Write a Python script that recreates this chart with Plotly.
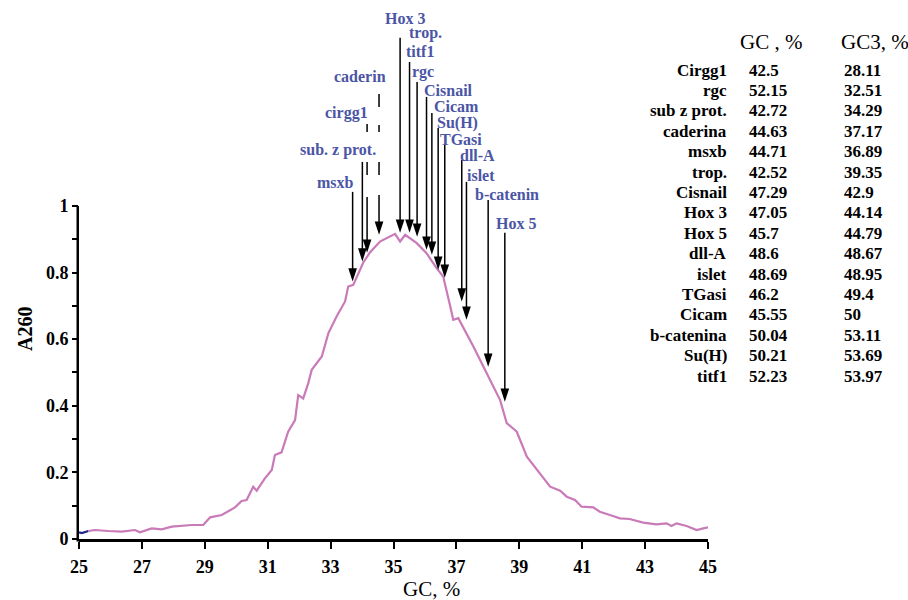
import plotly.graph_objects as go

# ---------------- data ----------------
gc_pct = [25.00, 25.09, 25.30, 25.50, 25.93, 26.36, 26.78, 26.94, 27.31, 27.63,
          27.95, 28.30, 28.58, 28.95, 29.17, 29.54, 29.96, 30.17, 30.33, 30.54,
          30.65, 30.91, 31.13, 31.23, 31.44, 31.65, 31.87, 31.97, 32.13, 32.29,
          32.40, 32.72, 32.93, 33.19, 33.46, 33.56, 33.72, 34.04, 34.25, 34.57,
          35.05, 35.21, 35.37, 35.74, 36.05, 36.37, 36.58, 36.80, 36.90, 37.06,
          37.43, 37.54, 37.96, 38.07, 38.39, 38.60, 38.92, 39.24, 39.66, 39.98,
          40.30, 40.51, 40.77, 40.98, 41.35, 41.56, 41.88, 42.20, 42.51, 42.94,
          43.36, 43.68, 43.84, 44.00, 44.32, 44.64, 44.85, 45.00]
a260 = [0.020, 0.018, 0.024, 0.027, 0.024, 0.022, 0.027, 0.020, 0.032, 0.029,
        0.037, 0.040, 0.042, 0.042, 0.065, 0.072, 0.095, 0.114, 0.117, 0.157,
        0.145, 0.182, 0.207, 0.252, 0.260, 0.322, 0.357, 0.432, 0.422, 0.468,
        0.508, 0.548, 0.618, 0.668, 0.713, 0.758, 0.763, 0.830, 0.860, 0.893,
        0.916, 0.893, 0.913, 0.888, 0.858, 0.813, 0.788, 0.700, 0.658, 0.663,
        0.598, 0.578, 0.498, 0.478, 0.417, 0.348, 0.322, 0.247, 0.197, 0.157,
        0.145, 0.127, 0.117, 0.097, 0.095, 0.082, 0.072, 0.062, 0.060, 0.049,
        0.044, 0.047, 0.039, 0.047, 0.039, 0.027, 0.032, 0.035]
BLUE_END = 3  # first points drawn in dark blue

# arrows (gene GC position, arrow tail level, arrow tip level)
arrow_gene = ['msxb', 'sub. z prot.', 'cirgg1', 'caderin', 'Hox 3', 'trop.', 'titf1',
              'rgc', 'Cisnail', 'Cicam', 'Su(H)', 'dll-A', 'islet', 'b-catenin', 'Hox 5']
arrow_gc = [33.70, 34.01, 34.16, 34.54, 35.21, 35.51, 35.75, 36.05, 36.22, 36.42,
            36.63, 37.17, 37.32, 38.01, 38.54]
arrow_top = [1.042, 1.132, 1.246, 1.336, 1.505, 1.432, 1.372, 1.327, 1.279, 1.234,
             1.183, 1.138, 1.072, 1.018, 0.919]
arrow_tip = [0.773, 0.833, 0.859, 0.913, 0.919, 0.919, 0.907, 0.868, 0.853, 0.808,
             0.784, 0.713, 0.658, 0.517, 0.412]
arrow_dashed = [False, False, True, True, False, False, False, False, False, False,
                False, False, False, False, False]

# gene labels over the curve
label_text = ['msxb', 'sub. z prot.', 'cirgg1', 'caderin', 'Hox 3', 'trop.', 'titf1',
              'rgc', 'Cisnail', 'Cicam', 'Su(H)', 'TGasi', 'dll-A', 'islet',
              'b-catenin', 'Hox 5']
label_x = [33.14, 33.22, 33.51, 33.95, 35.37, 36.02, 35.83, 35.95, 36.76, 36.99,
           37.02, 37.16, 37.67, 37.78, 38.62, 38.89]
label_y = [1.069, 1.168, 1.279, 1.387, 1.562, 1.519, 1.462, 1.402, 1.347, 1.298,
           1.248, 1.199, 1.150, 1.090, 1.033, 0.946]

# table on the right
table_gene = ['Cirgg1', 'rgc', 'sub z prot.', 'caderina', 'msxb', 'trop.', 'Cisnail',
              'Hox 3', 'Hox 5', 'dll-A', 'islet', 'TGasi', 'Cicam', 'b-catenina',
              'Su(H)', 'titf1']
table_gc = [42.5, 52.15, 42.72, 44.63, 44.71, 42.52, 47.29, 47.05, 45.7, 48.6,
            48.69, 46.2, 45.55, 50.04, 50.21, 52.23]
table_gc3 = [28.11, 32.51, 34.29, 37.17, 36.89, 39.35, 42.9, 44.14, 44.79, 48.67,
             48.95, 49.4, 50, 53.11, 53.69, 53.97]

x_ticks = [25, 27, 29, 31, 33, 35, 37, 39, 41, 43, 45]
y_ticks = [0, 0.1, 0.2, 0.3, 0.4, 0.5, 0.6, 0.7, 0.8, 0.9, 1.0]
y_ticktext = ['0', '', '0.2', '', '0.4', '', '0.6', '', '0.8', '', '1']

# ---------------- layout constants ----------------
W, H = 908, 600
M_L, M_R, M_T, M_B = 79, 200, 6, 61
PLOT_W = W - M_L - M_R
PLOT_H = H - M_T - M_B
Y_TOP = 1.6
FONT = 'Liberation Serif'
LABEL_COLOR = '#4b55a5'
CURVE_COLOR = '#c97ab8'


def pxx(px):
    return (px - M_L) / PLOT_W


def pxy(py):
    return (H - M_B - py) / PLOT_H


fig = go.Figure()

# curve
fig.add_trace(go.Scatter(x=gc_pct[:BLUE_END], y=a260[:BLUE_END], mode='lines',
                         line=dict(color='#24248c', width=2.2), hoverinfo='skip'))
fig.add_trace(go.Scatter(x=gc_pct[BLUE_END - 1:], y=a260[BLUE_END - 1:], mode='lines',
                         line=dict(color=CURVE_COLOR, width=2.2)))

# arrow shafts
GAP = 0.02
sx, sy = [], []
for g, t0, t1, d in zip(arrow_gc, arrow_top, arrow_tip, arrow_dashed):
    if d:
        continue
    sx += [g, g, None]
    sy += [t0, t1 + GAP, None]
fig.add_trace(go.Scatter(x=sx, y=sy, mode='lines', line=dict(color='black', width=1.5),
                         hoverinfo='skip'))
dash_patterns = {'cirgg1': '8px,30px,13px,22px,200px',
                 'caderin': '13px,18px,7px,30px,13px,20px,200px'}
for name, g, t0, t1, d in zip(arrow_gene, arrow_gc, arrow_top, arrow_tip, arrow_dashed):
    if not d:
        continue
    fig.add_trace(go.Scatter(x=[g, g], y=[t0, t1 + GAP], mode='lines',
                             line=dict(color='black', width=1.5, dash=dash_patterns[name]),
                             hoverinfo='skip'))

# arrow heads
fig.add_trace(go.Scatter(x=arrow_gc, y=arrow_tip, mode='markers',
                         marker=dict(symbol='arrow', angle=180, size=14, color='black',
                                     line=dict(width=0)),
                         hoverinfo='skip', cliponaxis=False))

annotations = []
for t, lx, ly in zip(label_text, label_x, label_y):
    annotations.append(dict(x=lx, y=ly, xref='x', yref='y', text=t, showarrow=False,
                            xanchor='center', yanchor='middle',
                            font=dict(family=FONT, size=16, color=LABEL_COLOR, weight='bold')))

# table header
annotations.append(dict(x=pxx(771), y=pxy(42), xref='paper', yref='paper', text='GC , %',
                        showarrow=False, xanchor='center', yanchor='middle',
                        font=dict(family=FONT, size=21, color='black')))
annotations.append(dict(x=pxx(875), y=pxy(42), xref='paper', yref='paper', text='GC3, %',
                        showarrow=False, xanchor='center', yanchor='middle',
                        font=dict(family=FONT, size=21, color='black')))
ROW0, ROW_STEP = 70, 20.4
for i, (gname, v1, v2) in enumerate(zip(table_gene, table_gc, table_gc3)):
    py = ROW0 + i * ROW_STEP
    tf = dict(family=FONT, size=17, color='black', weight='bold')
    annotations.append(dict(x=pxx(729), y=pxy(py), xref='paper', yref='paper', text=gname,
                            showarrow=False, xanchor='right', yanchor='middle', font=tf))
    annotations.append(dict(x=pxx(747), y=pxy(py), xref='paper', yref='paper', text=f'{v1:g}',
                            showarrow=False, xanchor='left', yanchor='middle', font=tf))
    annotations.append(dict(x=pxx(842), y=pxy(py), xref='paper', yref='paper', text=f'{v2:g}',
                            showarrow=False, xanchor='left', yanchor='middle', font=tf))

# axis titles
annotations.append(dict(x=pxx(25), y=pxy(329), xref='paper', yref='paper', text='A260',
                        textangle=-90, showarrow=False, xanchor='center', yanchor='middle',
                        font=dict(family=FONT, size=20, color='black', weight='bold')))
annotations.append(dict(x=pxx(431), y=pxy(589), xref='paper', yref='paper', text='GC, %',
                        showarrow=False, xanchor='center', yanchor='middle',
                        font=dict(family=FONT, size=21, color='black')))

shapes = [dict(type='line', xref='paper', yref='paper', x0=-1.25 / PLOT_W, x1=-1.25 / PLOT_W,
               y0=-2.5 / PLOT_H, y1=1.0 / Y_TOP, line=dict(color='black', width=2.5))]

fig.update_layout(
    width=W, height=H, margin=dict(l=M_L, r=M_R, t=M_T, b=M_B),
    paper_bgcolor='white', plot_bgcolor='white', showlegend=False,
    annotations=annotations, shapes=shapes,
    xaxis=dict(range=[25, 45], tickvals=x_ticks, showline=True, linecolor='black',
               linewidth=2.5, ticks='outside', ticklen=7, tickwidth=2, tickcolor='black',
               showgrid=False, zeroline=False, ticklabelstandoff=3,
               tickfont=dict(family=FONT, size=18, color='black', weight='bold')),
    yaxis=dict(range=[0, Y_TOP], tickvals=y_ticks, ticktext=y_ticktext, showline=False,
               ticks='outside', ticklen=6, tickwidth=2, tickcolor='black',
               showgrid=False, zeroline=False,
               tickfont=dict(family=FONT, size=18, color='black', weight='bold')),
)

fig.write_html('out.html')
